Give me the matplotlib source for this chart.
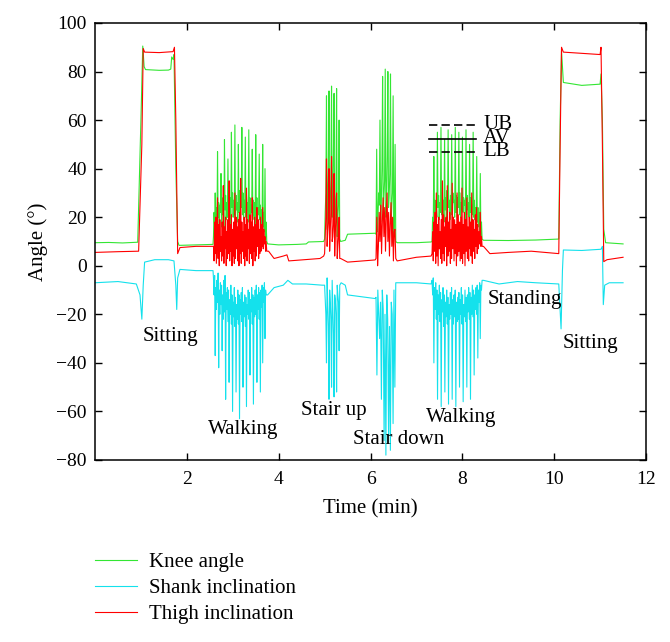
import numpy as np
import matplotlib
matplotlib.use("Agg")
import matplotlib.pyplot as plt

plt.rcParams['font.family'] = ['Liberation Serif', 'DejaVu Serif']

# ---- data (angle in degrees, time in min) ----
# quiet parts: (time, value) pairs
knee_pre = [(0.0, 9.5), (0.3, 9.6), (0.6, 9.4), (0.93, 9.7), (1.0, 60), (1.04, 90.5), (1.07, 82),
            (1.1, 80.8), (1.4, 80.5), (1.6, 80.6), (1.65, 81), (1.67, 86), (1.70, 85), (1.72, 87),
            (1.76, 40), (1.80, 10), (1.83, 8.4), (2.2, 8.6), (2.57, 8.8)]
knee_mid1 = [(3.76, 9.0), (4.0, 8.6), (4.4, 8.8), (4.6, 9.0), (4.65, 9.8), (4.98, 10)]
knee_mid2 = [(5.35, 10), (5.45, 10.5), (5.5, 13), (6.1, 13.4)]
knee_mid3 = [(6.58, 9.5), (7.0, 9.5), (7.32, 9.8)]
knee_post = [(8.46, 10.5), (9.0, 10.4), (9.6, 10.6), (10.1, 11), (10.13, 60), (10.16, 88.5),
             (10.2, 75.5), (10.6, 74.3), (11.0, 74.8), (11.02, 79), (11.05, 60), (11.08, 15),
             (11.12, 9.5), (11.5, 9.0)]

thigh_pre = [(0.0, 5.5), (0.5, 5.8), (0.95, 6), (1.02, 50), (1.05, 89.5), (1.08, 88), (1.4, 87.8),
             (1.7, 88.2), (1.73, 90), (1.76, 60), (1.80, 5), (1.85, 7.5), (2.2, 8), (2.57, 8)]
thigh_mid1 = [(3.78, 6), (3.9, 3), (4.1, 4), (4.18, 4.5), (4.22, 2), (4.5, 2.4), (4.9, 3), (4.98, 4)]
thigh_mid2 = [(5.35, 3), (5.5, 1.5), (6.1, 2.4)]
thigh_mid3 = [(6.58, 2), (7.0, 3.5), (7.32, 4)]
thigh_post = [(8.46, 8), (8.6, 5), (9.0, 5.5), (9.5, 6), (10.1, 5), (10.13, 50), (10.16, 90),
              (10.2, 88), (10.6, 87.5), (11.0, 87), (11.02, 90), (11.05, 50), (11.08, 1.7),
              (11.15, 2.5), (11.5, 3.5)]

shank_pre = [(0.0, -7), (0.5, -6.5), (0.9, -7.5), (0.98, -12), (1.02, -22), (1.05, -8), (1.08, 1.5),
             (1.3, 2.5), (1.6, 2.5), (1.72, 2), (1.76, -8), (1.78, -18), (1.80, -5), (1.85, -1.5),
             (2.2, -2), (2.57, -2)]
shank_mid1 = [(3.76, -12), (3.9, -9), (4.1, -8), (4.2, -6), (4.3, -7.5), (4.6, -7.5), (4.95, -8)]
shank_mid2 = [(5.36, -7), (5.45, -8), (5.5, -12), (6.1, -13.5)]
shank_mid3 = [(6.58, -7), (7.0, -7), (7.32, -7.5)]
shank_post = [(8.46, -6), (8.8, -7.5), (9.2, -6.5), (9.6, -7), (10.1, -7.5), (10.15, -26),
              (10.18, -2), (10.2, 6.5), (10.6, 6.3), (11.02, 6.8), (11.05, 8), (11.07, -16),
              (11.1, -8), (11.2, -7), (11.5, -7)]

# active parts: start, end and sampled values
walk1_span = (2.58, 3.74)
knee_walk1 = [12, 22, 16, 30, 18, 24, 14, 47, 20, 26, 17, 25, 22, 38, 16, 28, 21, 27, 15, 52, 23,
              29, 19, 26, 20, 44, 18, 31, 22, 28, 17, 55, 24, 30, 20, 27, 21, 58, 19, 29, 23, 26,
              18, 50, 22, 31, 20, 28, 24, 57, 21, 30, 19, 27, 22, 53, 20, 29, 23, 26, 18, 56, 21,
              28, 20, 25, 22, 48, 19, 27, 21, 26, 17, 54, 20, 28, 18, 24, 21, 46, 19, 25, 17, 23,
              20, 50, 16, 22, 14, 40, 12, 18, 10]
thigh_walk1 = [8, 2, 18, 5, 20, 1, 15, 28, 3, 17, 0, 19, 6, 12, 2, 18, 4, 33, 1, 16, 7, 20, 0, 14,
               3, 19, 5, 35, 2, 17, 6, 21, 0, 15, 4, 18, 1, 30, 3, 20, 7, 16, 2, 19, 0, 22, 5, 36,
               1, 18, 6, 14, 3, 20, 0, 17, 4, 32, 2, 19, 7, 15, 1, 21, 5, 18, 3, 28, 0, 16, 6, 20,
               2, 17, 4, 24, 8, 19, 3, 15, 5, 20, 6, 17, 8, 24, 7, 15, 9, 12, 6, 10, 6]
shank_walk1 = [-5, -12, -4, -37, -9, -18, -6, -15, -3, -42, -10, -20, -7, -16, -8, -35, -12, -22,
               -6, -19, -4, -55, -11, -18, -9, -23, -10, -48, -14, -20, -8, -24, -12, -60, -15,
               -21, -9, -25, -13, -52, -16, -22, -10, -24, -12, -63, -14, -20, -11, -23, -9, -50,
               -15, -21, -12, -25, -13, -58, -16, -20, -10, -22, -11, -45, -14, -19, -9, -24,
               -12, -57, -13, -21, -10, -20, -8, -48, -12, -18, -9, -22, -11, -52, -10, -17, -8,
               -40, -9, -15, -7, -30, -10, -12, -12]

stair_up_span = (5.0, 5.33)
knee_stair_up = [11, 22, 30, 70, 15, 28, 40, 72, 18, 26, 35, 74, 20, 30, 45, 71, 14, 24, 30, 73,
                 12, 20, 25, 60, 11]
thigh_stair_up = [5, 12, 20, 44, 8, 14, 18, 40, 6, 15, 22, 45, 10, 12, 17, 38, 4, 14, 20, 30, 3,
                  8, 12, 20, 3]
shank_stair_up = [-8, -14, -20, -40, -5, -16, -25, -55, -10, -15, -22, -50, -6, -18, -28, -54,
                  -12, -14, -20, -52, -8, -12, -15, -35, -8]

stair_down_span = (6.12, 6.55)
knee_stair_down = [13, 48, 14, 20, 30, 25, 60, 18, 26, 40, 78, 22, 28, 35, 81, 20, 27, 45, 80, 24,
                   29, 38, 79, 18, 25, 30, 70, 12, 20, 50, 10]
thigh_stair_down = [3, 20, 0, 8, 22, 10, 25, 5, 18, 28, 12, 24, 6, 20, 30, 10, 22, 4, 17, 26, 8,
                    20, 2, 14, 15, 3]
shank_stair_down = [-13, -45, -10, -20, -30, -15, -55, -10, -18, -72, -20, -78, -12, -22, -70,
                    -25, -76, -15, -20, -65, -10, -50, -7]

walk2_span = (7.34, 8.43)
knee_walk2 = [10, 20, 15, 45, 22, 27, 18, 25, 20, 55, 24, 29, 19, 26, 22, 57, 21, 30, 25, 27, 18,
              52, 23, 28, 20, 31, 22, 56, 24, 27, 19, 29, 21, 54, 23, 30, 26, 27, 20, 57, 22, 29,
              19, 28, 24, 55, 21, 30, 20, 26, 23, 53, 22, 28, 25, 27, 19, 56, 21, 29, 23, 26, 20,
              50, 22, 28, 18, 25, 21, 55, 20, 27, 19, 24, 17, 45, 18, 24, 16, 22, 14, 38, 12, 18,
              11]
thigh_walk2 = [5, 14, 2, 18, 6, 22, 1, 30, 4, 17, 0, 20, 7, 14, 3, 19, 1, 35, 5, 21, 2, 16, 8,
               20, 0, 33, 4, 18, 6, 22, 1, 15, 3, 34, 7, 20, 2, 19, 5, 17, 0, 30, 4, 21, 6, 18, 2,
               20, 3, 32, 1, 17, 5, 22, 0, 19, 6, 28, 3, 16, 2, 20, 7, 18, 4, 30, 1, 19, 6, 15, 3,
               21, 8, 24, 5, 17, 7, 14, 9, 22, 8, 12, 8]
shank_walk2 = [-6, -12, -5, -40, -9, -18, -7, -22, -10, -55, -12, -20, -8, -23, -11, -58, -14,
               -19, -9, -25, -12, -52, -15, -21, -10, -24, -13, -57, -16, -22, -11, -20, -9, -55,
               -14, -24, -12, -21, -10, -58, -15, -23, -13, -22, -11, -50, -14, -20, -9, -24,
               -12, -56, -16, -21, -10, -23, -13, -50, -12, -19, -9, -22, -11, -55, -13, -20, -8,
               -21, -10, -45, -12, -18, -9, -20, -8, -38, -10, -15, -7, -30, -8, -10, -6]

activity_labels = ["Sitting", "Walking", "Stair up", "Stair down", "Walking", "Standing", "Sitting"]
activity_pos = [(1.65, -29), (3.22, -67.5), (5.19, -59.8), (6.62, -71.5), (7.97, -62.7),
                (9.35, -14), (10.8, -32)]
bound_labels = ["UB", "AV", "LB"]
bound_levels = [58, 52.2, 46.9]


def active(span, vals):
    t = np.linspace(span[0], span[1], len(vals))
    return list(zip(t, vals))


def build(pre, w1, mid1, su, mid2, sd, mid3, w2, post):
    pts = (pre + active(walk1_span, w1) + mid1 + active(stair_up_span, su) + mid2
           + active(stair_down_span, sd) + mid3 + active(walk2_span, w2) + post)
    pts = np.array(pts, dtype=float)
    return pts[:, 0], pts[:, 1]


knee_t, knee_v = build(knee_pre, knee_walk1, knee_mid1, knee_stair_up, knee_mid2,
                       knee_stair_down, knee_mid3, knee_walk2, knee_post)
thigh_t, thigh_v = build(thigh_pre, thigh_walk1, thigh_mid1, thigh_stair_up, thigh_mid2,
                         thigh_stair_down, thigh_mid3, thigh_walk2, thigh_post)
shank_t, shank_v = build(shank_pre, shank_walk1, shank_mid1, shank_stair_up, shank_mid2,
                         shank_stair_down, shank_mid3, shank_walk2, shank_post)

fig = plt.figure(figsize=(6.7, 6.42), dpi=100)
ax = fig.add_axes([0.1418, 0.2835, 0.8224, 0.6807])

ax.plot(knee_t, knee_v, color='#33e633', lw=0.8, label='Knee angle')
ax.plot(shank_t, shank_v, color='#14e1ec', lw=0.8, label='Shank inclination')
ax.plot(thigh_t, thigh_v, color='#ff0000', lw=0.8, label='Thigh inclination')

# bound indicator
for lev, ls in zip(bound_levels, [(0, (5, 2.5)), '-', (0, (5, 2.5))]):
    ax.plot([7.28, 8.30], [lev, lev], color='k', lw=1.2, ls=ls)
ax.text(8.45, 52.6, "\n".join(bound_labels), fontsize=15, va='center', ha='left',
        linespacing=0.62)

for lab, (xx, yy) in zip(activity_labels, activity_pos):
    ax.text(xx, yy, lab, fontsize=15, ha='center', va='center')

ax.set_xlim(0, 12)
ax.set_ylim(-80, 100)
ax.set_xticks([2, 4, 6, 8, 10, 12])
ax.set_yticks(np.arange(-80, 101, 20))
ax.set_yticklabels([str(v).replace('-', '\u2212') for v in range(-80, 101, 20)])
ax.tick_params(direction='in', length=5, width=1, top=True, right=True, labelsize=14)
ax.tick_params(axis='x', pad=8)
ax.tick_params(axis='y', pad=6)
for s in ax.spines.values():
    s.set_linewidth(1.1)

ax.set_xlabel('Time (min)', fontsize=15)
ax.set_ylabel('Angle (°)', fontsize=15)
ax.xaxis.set_label_coords(0.5, -0.09)
ax.yaxis.set_label_coords(-0.085, 0.5)

handles, labels = ax.get_legend_handles_labels()
fig.legend(handles, labels, loc='upper left', bbox_to_anchor=(0.13, 0.152), frameon=False,
           fontsize=15, handlelength=2.0, handletextpad=0.55, labelspacing=0.3,
           borderaxespad=0)

fig.savefig('out.png', dpi=100)
